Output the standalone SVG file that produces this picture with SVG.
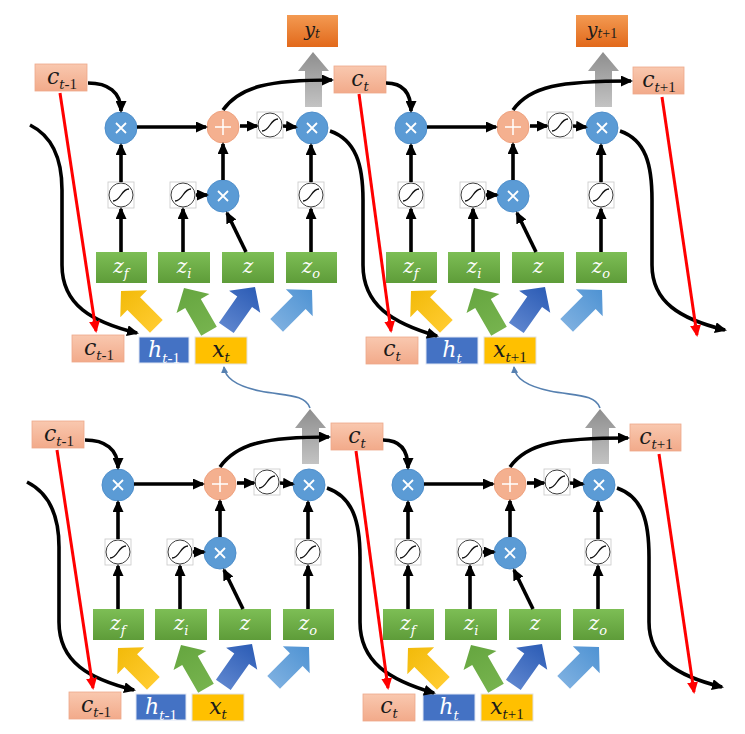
<svg xmlns="http://www.w3.org/2000/svg" width="745" height="734" viewBox="0 0 745 734">
<defs>
<style>
.cl,.zl,.yl,.hl,.xl{font-family:'DejaVu Serif',serif;font-style:italic;text-anchor:middle}
.cl{font-size:22px;fill:#1a1a1a}
.zl{font-size:20px;fill:#fff}
.yl{font-size:19px;fill:#1a1a1a}
.hl{font-size:22px;fill:#fff}
.xl{font-size:22px;fill:#1a1a1a}
.s{font-size:13px}
.zs{font-size:13px}
.ys{font-size:12px}
.n{font-family:'Liberation Serif',serif;font-style:normal;font-size:15px}
.cb{fill:url(#gC);stroke:#EDA98A;stroke-width:0.8}
.gb{fill:url(#gG)}
.hb{fill:#4472C4;stroke:#dfe6f3;stroke-width:1}
.xb{fill:#FFC000;stroke:#e2e2e2;stroke-width:1}
.yb{fill:url(#gY)}
.k{fill:none;stroke:#000;stroke-width:3.6;marker-end:url(#ak)}
.r{fill:none;stroke:#FF0000;stroke-width:3;marker-end:url(#ar)}
.b{fill:none;stroke:#5680B0;stroke-width:1.6;marker-end:url(#ab)}
</style>
<linearGradient id="gC" x1="0" y1="0" x2="0" y2="1"><stop offset="0" stop-color="#F9C8AF"/><stop offset="1" stop-color="#F2AA8A"/></linearGradient>
<linearGradient id="gG" x1="0" y1="0" x2="0" y2="1"><stop offset="0" stop-color="#7DBE55"/><stop offset="1" stop-color="#5E9C39"/></linearGradient>
<linearGradient id="gY" x1="0" y1="0" x2="0" y2="1"><stop offset="0" stop-color="#F39A52"/><stop offset="1" stop-color="#E2691B"/></linearGradient>
<linearGradient id="gGr" x1="0" y1="0" x2="0" y2="1"><stop offset="0" stop-color="#8E8E8E"/><stop offset="1" stop-color="#C3C3C3"/></linearGradient>
<linearGradient id="fY" x1="0" y1="0" x2="0" y2="1"><stop offset="0" stop-color="#F2BA0A"/><stop offset="1" stop-color="#FFCB2E"/></linearGradient>
<linearGradient id="fG" x1="0" y1="0" x2="0" y2="1"><stop offset="0" stop-color="#66A640"/><stop offset="1" stop-color="#76B34E"/></linearGradient>
<linearGradient id="fB" x1="0" y1="0" x2="0" y2="1"><stop offset="0" stop-color="#2C5CB5"/><stop offset="1" stop-color="#5C84CE"/></linearGradient>
<linearGradient id="fL" x1="0" y1="0" x2="0" y2="1"><stop offset="0" stop-color="#4F93D3"/><stop offset="1" stop-color="#7CAFE0"/></linearGradient>
<marker id="ak" markerUnits="userSpaceOnUse" markerWidth="12" markerHeight="11" viewBox="0 0 12 11" refX="10" refY="5.5" orient="auto"><path d="M0,0 L12,5.5 L0,11 Z" fill="#000"/></marker>
<marker id="ar" markerUnits="userSpaceOnUse" markerWidth="12" markerHeight="11" viewBox="0 0 12 11" refX="10" refY="5.5" orient="auto"><path d="M0,0 L12,5.5 L0,11 Z" fill="#FF0000"/></marker>
<marker id="ab" markerUnits="userSpaceOnUse" markerWidth="7" markerHeight="7" viewBox="0 0 7 7" refX="6" refY="3.5" orient="auto"><path d="M0,0 L7,3.5 L0,7 Z" fill="#5680B0"/></marker>
<g id="sig"><rect x="-13" y="-13" width="26" height="26" fill="#fff" stroke="#c9c9c9" stroke-width="0.8"/><circle r="12" fill="#fff" stroke="#404040" stroke-width="1"/><path d="M-8,6 C0,6 0,-6 8,-6" fill="none" stroke="#111" stroke-width="1.3"/></g>
<g id="mul"><circle r="16" fill="#5B9BD5" stroke="#4F8FCB" stroke-width="1"/><path d="M-5,-5 L5,5 M5,-5 L-5,5" stroke="#fff" stroke-width="1.8"/></g>
<g id="plus"><circle r="16" fill="#F4B08F" stroke="#EFA27F" stroke-width="1"/><path d="M-8,0 H8 M0,-8 V8" stroke="#fff" stroke-width="1.5"/></g>
<path id="fat" d="M0,0 L19,18 L9,18 L9,50 L-9,50 L-9,18 L-19,18 Z"/>
<path id="gray" d="M313,52 L329,71 L322,71 L322,107 L305,107 L305,71 L298,71 Z"/>
</defs>
<rect width="745" height="734" fill="#fff"/>

<g id="row-top">
 <g id="cell-tl">
  <g id="tl-mul1"><use href="#mul" x="121" y="128"/></g>
  <g id="tl-plus"><use href="#plus" x="223" y="127"/></g>
  <g id="tl-sigc"><use href="#sig" x="270" y="125"/></g>
  <g id="tl-mul3"><use href="#mul" x="312" y="128"/></g>
  <g id="tl-sigf"><use href="#sig" x="121" y="195"/></g>
  <g id="tl-sigi"><use href="#sig" x="183" y="195"/></g>
  <g id="tl-mul2"><use href="#mul" x="223" y="196"/></g>
  <g id="tl-sigo"><use href="#sig" x="311" y="195"/></g>
  <g id="tl-zf"><rect class="gb" x="96" y="252" width="51" height="31"/><text class="zl" x="121" y="273">z<tspan class="zs" dy="5">f</tspan></text></g>
  <g id="tl-zi"><rect class="gb" x="158" y="252" width="52" height="31"/><text class="zl" x="184" y="273">z<tspan class="zs" dy="5">i</tspan></text></g>
  <g id="tl-z"><rect class="gb" x="222" y="252" width="52" height="31"/><text class="zl" x="248" y="273">z</text></g>
  <g id="tl-zo"><rect class="gb" x="286" y="252" width="51" height="31"/><text class="zl" x="311" y="273">z<tspan class="zs" dy="5">o</tspan></text></g>
  <g id="tl-fy"><use href="#fat" fill="url(#fY)" transform="translate(121,291) rotate(-45)"/></g>
  <g id="tl-fg"><use href="#fat" fill="url(#fG)" transform="translate(184,288) rotate(-30)"/></g>
  <g id="tl-fb"><use href="#fat" fill="url(#fB)" transform="translate(255,287) rotate(35)"/></g>
  <g id="tl-fl"><use href="#fat" fill="url(#fL)" transform="translate(312,290) rotate(45)"/></g>
  <g id="tl-out"><use href="#gray" fill="url(#gGr)"/></g>
 </g>
 <g id="cell-tr" transform="translate(290,0)">
  <g id="tr-mul1"><use href="#mul" x="121" y="128"/></g>
  <g id="tr-plus"><use href="#plus" x="223" y="127"/></g>
  <g id="tr-sigc"><use href="#sig" x="270" y="125"/></g>
  <g id="tr-mul3"><use href="#mul" x="312" y="128"/></g>
  <g id="tr-sigf"><use href="#sig" x="121" y="195"/></g>
  <g id="tr-sigi"><use href="#sig" x="183" y="195"/></g>
  <g id="tr-mul2"><use href="#mul" x="223" y="196"/></g>
  <g id="tr-sigo"><use href="#sig" x="311" y="195"/></g>
  <g id="tr-zf"><rect class="gb" x="96" y="252" width="51" height="31"/><text class="zl" x="121" y="273">z<tspan class="zs" dy="5">f</tspan></text></g>
  <g id="tr-zi"><rect class="gb" x="158" y="252" width="52" height="31"/><text class="zl" x="184" y="273">z<tspan class="zs" dy="5">i</tspan></text></g>
  <g id="tr-z"><rect class="gb" x="222" y="252" width="52" height="31"/><text class="zl" x="248" y="273">z</text></g>
  <g id="tr-zo"><rect class="gb" x="286" y="252" width="51" height="31"/><text class="zl" x="311" y="273">z<tspan class="zs" dy="5">o</tspan></text></g>
  <g id="tr-fy"><use href="#fat" fill="url(#fY)" transform="translate(121,291) rotate(-45)"/></g>
  <g id="tr-fg"><use href="#fat" fill="url(#fG)" transform="translate(184,288) rotate(-30)"/></g>
  <g id="tr-fb"><use href="#fat" fill="url(#fB)" transform="translate(255,287) rotate(35)"/></g>
  <g id="tr-fl"><use href="#fat" fill="url(#fL)" transform="translate(312,290) rotate(45)"/></g>
  <g id="tr-out"><use href="#gray" fill="url(#gGr)"/></g>
 </g>
 <g id="t-y0"><rect class="yb" x="287" y="15" width="51" height="32"/><text class="yl" x="312" y="36">y<tspan class="ys" dy="2">t</tspan></text></g>
 <g id="t-y1"><rect class="yb" x="576" y="15" width="52" height="32"/><text class="yl" x="602" y="36">y<tspan class="ys" dy="2">t</tspan><tspan class="n" style="font-size:14px">+1</tspan></text></g>
 <g id="t-c0"><rect class="cb" x="35" y="64" width="52" height="27"/><text class="cl" x="62" y="84">c<tspan class="s" dy="5">t</tspan><tspan class="n">-1</tspan></text></g>
 <g id="t-c1"><rect class="cb" x="334" y="66" width="52" height="27"/><text class="cl" x="360" y="86">c<tspan class="s" dy="5">t</tspan></text></g>
 <g id="t-c2"><rect class="cb" x="633" y="67" width="51" height="27"/><text class="cl" x="659" y="87">c<tspan class="s" dy="5">t</tspan><tspan class="n">+1</tspan></text></g>
 <g id="t-cb0"><rect class="cb" x="72" y="335" width="52" height="27"/><text class="cl" x="99" y="355">c<tspan class="s" dy="5">t</tspan><tspan class="n">-1</tspan></text></g>
 <g id="t-h0"><rect class="hb" x="139" y="337" width="50" height="26"/><text class="hl" x="164" y="357">h<tspan class="s" dy="6">t</tspan><tspan class="n">-1</tspan></text></g>
 <g id="t-x0"><rect class="xb" x="195" y="337" width="52" height="27"/><text class="xl" x="221" y="357">x<tspan class="s" dy="5">t</tspan></text></g>
 <g id="t-cb1"><rect class="cb" x="366" y="337" width="52" height="27"/><text class="cl" x="392" y="356">c<tspan class="s" dy="5">t</tspan></text></g>
 <g id="t-h1"><rect class="hb" x="426" y="337" width="52" height="27"/><text class="hl" x="452" y="357">h<tspan class="s" dy="6">t</tspan></text></g>
 <g id="t-x1"><rect class="xb" x="484" y="337" width="52" height="27"/><text class="xl" x="510" y="357">x<tspan class="s" dy="5">t</tspan><tspan class="n">+1</tspan></text></g>
</g>

<g id="row-bottom" transform="translate(-3,357)">
 <g id="cell-bl">
  <g id="bl-mul1"><use href="#mul" x="121" y="128"/></g>
  <g id="bl-plus"><use href="#plus" x="223" y="127"/></g>
  <g id="bl-sigc"><use href="#sig" x="270" y="125"/></g>
  <g id="bl-mul3"><use href="#mul" x="312" y="128"/></g>
  <g id="bl-sigf"><use href="#sig" x="121" y="195"/></g>
  <g id="bl-sigi"><use href="#sig" x="183" y="195"/></g>
  <g id="bl-mul2"><use href="#mul" x="223" y="196"/></g>
  <g id="bl-sigo"><use href="#sig" x="311" y="195"/></g>
  <g id="bl-zf"><rect class="gb" x="96" y="252" width="51" height="31"/><text class="zl" x="121" y="273">z<tspan class="zs" dy="5">f</tspan></text></g>
  <g id="bl-zi"><rect class="gb" x="158" y="252" width="52" height="31"/><text class="zl" x="184" y="273">z<tspan class="zs" dy="5">i</tspan></text></g>
  <g id="bl-z"><rect class="gb" x="222" y="252" width="52" height="31"/><text class="zl" x="248" y="273">z</text></g>
  <g id="bl-zo"><rect class="gb" x="286" y="252" width="51" height="31"/><text class="zl" x="311" y="273">z<tspan class="zs" dy="5">o</tspan></text></g>
  <g id="bl-fy"><use href="#fat" fill="url(#fY)" transform="translate(121,291) rotate(-45)"/></g>
  <g id="bl-fg"><use href="#fat" fill="url(#fG)" transform="translate(184,288) rotate(-30)"/></g>
  <g id="bl-fb"><use href="#fat" fill="url(#fB)" transform="translate(255,287) rotate(35)"/></g>
  <g id="bl-fl"><use href="#fat" fill="url(#fL)" transform="translate(312,290) rotate(45)"/></g>
  <g id="bl-out"><use href="#gray" fill="url(#gGr)"/></g>
 </g>
 <g id="cell-br" transform="translate(290,0)">
  <g id="br-mul1"><use href="#mul" x="121" y="128"/></g>
  <g id="br-plus"><use href="#plus" x="223" y="127"/></g>
  <g id="br-sigc"><use href="#sig" x="270" y="125"/></g>
  <g id="br-mul3"><use href="#mul" x="312" y="128"/></g>
  <g id="br-sigf"><use href="#sig" x="121" y="195"/></g>
  <g id="br-sigi"><use href="#sig" x="183" y="195"/></g>
  <g id="br-mul2"><use href="#mul" x="223" y="196"/></g>
  <g id="br-sigo"><use href="#sig" x="311" y="195"/></g>
  <g id="br-zf"><rect class="gb" x="96" y="252" width="51" height="31"/><text class="zl" x="121" y="273">z<tspan class="zs" dy="5">f</tspan></text></g>
  <g id="br-zi"><rect class="gb" x="158" y="252" width="52" height="31"/><text class="zl" x="184" y="273">z<tspan class="zs" dy="5">i</tspan></text></g>
  <g id="br-z"><rect class="gb" x="222" y="252" width="52" height="31"/><text class="zl" x="248" y="273">z</text></g>
  <g id="br-zo"><rect class="gb" x="286" y="252" width="51" height="31"/><text class="zl" x="311" y="273">z<tspan class="zs" dy="5">o</tspan></text></g>
  <g id="br-fy"><use href="#fat" fill="url(#fY)" transform="translate(121,291) rotate(-45)"/></g>
  <g id="br-fg"><use href="#fat" fill="url(#fG)" transform="translate(184,288) rotate(-30)"/></g>
  <g id="br-fb"><use href="#fat" fill="url(#fB)" transform="translate(255,287) rotate(35)"/></g>
  <g id="br-fl"><use href="#fat" fill="url(#fL)" transform="translate(312,290) rotate(45)"/></g>
  <g id="br-out"><use href="#gray" fill="url(#gGr)"/></g>
 </g>
 <g id="b-c0"><rect class="cb" x="35" y="64" width="52" height="27"/><text class="cl" x="62" y="84">c<tspan class="s" dy="5">t</tspan><tspan class="n">-1</tspan></text></g>
 <g id="b-c1"><rect class="cb" x="334" y="66" width="52" height="27"/><text class="cl" x="360" y="86">c<tspan class="s" dy="5">t</tspan></text></g>
 <g id="b-c2"><rect class="cb" x="633" y="67" width="51" height="27"/><text class="cl" x="659" y="87">c<tspan class="s" dy="5">t</tspan><tspan class="n">+1</tspan></text></g>
 <g id="b-cb0"><rect class="cb" x="72" y="335" width="52" height="27"/><text class="cl" x="99" y="355">c<tspan class="s" dy="5">t</tspan><tspan class="n">-1</tspan></text></g>
 <g id="b-h0"><rect class="hb" x="139" y="337" width="50" height="26"/><text class="hl" x="164" y="357">h<tspan class="s" dy="6">t</tspan><tspan class="n">-1</tspan></text></g>
 <g id="b-x0"><rect class="xb" x="195" y="337" width="52" height="27"/><text class="xl" x="221" y="357">x<tspan class="s" dy="5">t</tspan></text></g>
 <g id="b-cb1"><rect class="cb" x="366" y="337" width="52" height="27"/><text class="cl" x="392" y="356">c<tspan class="s" dy="5">t</tspan></text></g>
 <g id="b-h1"><rect class="hb" x="426" y="337" width="52" height="27"/><text class="hl" x="452" y="357">h<tspan class="s" dy="6">t</tspan></text></g>
 <g id="b-x1"><rect class="xb" x="484" y="337" width="52" height="27"/><text class="xl" x="510" y="357">x<tspan class="s" dy="5">t</tspan><tspan class="n">+1</tspan></text></g>
</g>

<g id="connectors">
 <g id="conn-top">
  <g id="conn-tl">
   <path class="k" d="M88,83 C108,83 121,92 121,111"/>
   <path class="k" d="M137,127 L206,127"/>
   <path class="k" d="M240,126 L257,126"/>
   <path class="k" d="M283,126 L296,127"/>
   <path class="k" d="M223,180 L223,144"/>
   <path class="k" d="M121,182 L121,145"/>
   <path class="k" d="M311,182 L311,145"/>
   <path class="k" d="M196,195 L207,195"/>
   <path class="k" d="M121,252 L121,209"/>
   <path class="k" d="M183,252 L183,209"/>
   <path class="k" d="M246,252 L227,213"/>
   <path class="k" d="M311,252 L311,209"/>
   <path class="k" d="M223,110 C240,86 270,80 332,80"/>
   <path class="k" d="M330,131 C356,140 363,165 363,200 L363,265 C363,305 392,323 437,336"/>
   <path class="k" d="M30,125 C50,135 62,155 62,190 L62,265 C62,305 92,322 137,333"/>
  </g>
  <g id="conn-tr" transform="translate(290,0)">
   <path class="k" d="M96,83 C112,83 121,92 121,111"/>
   <path class="k" d="M137,127 L206,127"/>
   <path class="k" d="M240,126 L257,126"/>
   <path class="k" d="M283,126 L296,127"/>
   <path class="k" d="M223,180 L223,144"/>
   <path class="k" d="M121,182 L121,145"/>
   <path class="k" d="M311,182 L311,145"/>
   <path class="k" d="M196,195 L207,195"/>
   <path class="k" d="M121,252 L121,209"/>
   <path class="k" d="M183,252 L183,209"/>
   <path class="k" d="M246,252 L227,213"/>
   <path class="k" d="M311,252 L311,209"/>
   <path class="k" d="M223,110 C240,86 270,81 341,81"/>
   <path class="k" d="M330,131 C356,140 362,165 362,200 L362,265 C362,302 390,319 435,330"/>
  </g>
  <path class="r" d="M60,93 L96,331"/>
  <path class="r" d="M359,94 L391,331"/>
  <path class="r" d="M662,97 L697,335"/>
 </g>
 <g id="conn-bottom" transform="translate(-3,357)">
  <g id="conn-bl">
   <path class="k" d="M88,83 C108,83 121,92 121,111"/>
   <path class="k" d="M137,127 L206,127"/>
   <path class="k" d="M240,126 L257,126"/>
   <path class="k" d="M283,126 L296,127"/>
   <path class="k" d="M223,180 L223,144"/>
   <path class="k" d="M121,182 L121,145"/>
   <path class="k" d="M311,182 L311,145"/>
   <path class="k" d="M196,195 L207,195"/>
   <path class="k" d="M121,252 L121,209"/>
   <path class="k" d="M183,252 L183,209"/>
   <path class="k" d="M246,252 L227,213"/>
   <path class="k" d="M311,252 L311,209"/>
   <path class="k" d="M223,110 C240,86 270,80 332,80"/>
   <path class="k" d="M330,131 C356,140 363,165 363,200 L363,265 C363,305 392,323 437,336"/>
   <path class="k" d="M30,125 C50,135 62,155 62,190 L62,265 C62,305 92,322 137,333"/>
  </g>
  <g id="conn-br" transform="translate(290,0)">
   <path class="k" d="M96,83 C112,83 121,92 121,111"/>
   <path class="k" d="M137,127 L206,127"/>
   <path class="k" d="M240,126 L257,126"/>
   <path class="k" d="M283,126 L296,127"/>
   <path class="k" d="M223,180 L223,144"/>
   <path class="k" d="M121,182 L121,145"/>
   <path class="k" d="M311,182 L311,145"/>
   <path class="k" d="M196,195 L207,195"/>
   <path class="k" d="M121,252 L121,209"/>
   <path class="k" d="M183,252 L183,209"/>
   <path class="k" d="M246,252 L227,213"/>
   <path class="k" d="M311,252 L311,209"/>
   <path class="k" d="M223,110 C240,86 270,81 341,81"/>
   <path class="k" d="M330,131 C356,140 362,165 362,200 L362,265 C362,302 390,319 435,330"/>
  </g>
  <path class="r" d="M60,93 L96,331"/>
  <path class="r" d="M359,94 L391,331"/>
  <path class="r" d="M662,97 L697,335"/>
 </g>
 <path class="b" d="M310,408 C305,394 285,396 260,391 C236,386 225,378 224,367"/>
 <path class="b" d="M600,408 C595,394 575,396 550,391 C526,386 515,378 514,367"/>
</g>
</svg>
